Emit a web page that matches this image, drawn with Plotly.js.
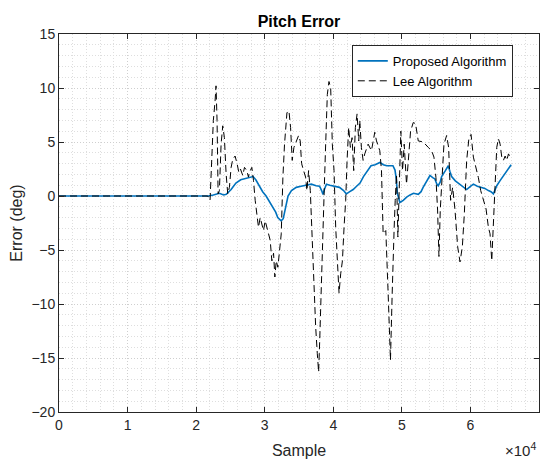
<!DOCTYPE html>
<html>
<head>
<meta charset="utf-8">
<script src="https://cdn.plot.ly/plotly-3.0.1.min.js"></script>
<style>
  html, body { margin: 0; padding: 0; background: #fff; }
  #chart { width: 541px; height: 459px; }
</style>
</head>
<body>
<div id="chart"></div>
<script>
// Pitch error of the two attitude estimators (degrees) against sample index.
const proposedSample = [0, 21800, 22500, 23400, 24000, 24400, 25100, 25800, 26500, 27000, 27500, 28300,
  28700, 29200, 29700, 30200, 30700, 31200, 31600, 31900, 32400, 32700, 32900, 33200, 33400, 33900,
  34600, 35300, 36100, 36800, 37500, 38000, 38300, 38500, 38700, 39000, 39500, 40000, 40900, 41500,
  41900, 42400, 42900, 43400, 43900, 44400, 45000, 45500, 46100, 46800, 47300, 47800, 48700, 49000,
  49200, 49350, 49500, 49700, 50200, 50700, 51200, 51700, 52400, 52800, 53100, 53600, 54100, 54500,
  54800, 55100, 55300, 55600, 55800, 56300, 56770, 57000, 57260, 57800, 58480, 59000, 59450, 60000,
  60430, 61000, 61650, 62100, 62620, 63000, 63350, 63840, 64300, 64810, 65400, 65940];
const proposedError = [0, 0, 0.1, 0.25, 0.1, 0.15, 0.6, 1.2, 1.5, 1.6, 1.7, 1.8,
  1.5, 0.9, 0.4, 0.0, -0.5, -1.0, -1.5, -2.0, -2.3, -2.1, -1.5, -0.5, 0.0, 0.5,
  0.8, 0.9, 1.0, 1.1, 0.95, 0.9, 0.5, 0.15, 0.6, 1.1, 1.0, 0.95, 0.8, 0.5,
  0.2, 0.4, 0.6, 0.9, 1.2, 1.8, 2.4, 2.8, 2.9, 3.1, 2.9, 2.8, 2.8, 2.4,
  1.5, 0.2, -0.1, -0.6, -0.4, -0.1, 0.1, 0.25, 0.15, 0.4, 0.8, 1.4, 1.9, 1.7,
  1.6, 1.1, 0.95, 1.3, 1.8, 2.3, 2.8, 2.3, 1.8, 1.4, 1.1, 0.8, 0.6, 0.9,
  1.1, 0.9, 0.8, 0.7, 0.5, 0.4, 0.2, 0.95, 1.4, 1.9, 2.4, 2.9];

const leeSample = [0, 21690, 22030, 22270, 22510, 22760, 22900, 23050, 23200, 23390, 23640, 23880,
  24120, 24370, 24610, 24850, 25100, 25340, 25680, 25970, 26220, 26460, 26800, 27050, 27390, 27630,
  27780, 28120, 28360, 28610, 28850, 29090, 29340, 29580, 29820, 30070, 30310, 30550, 30800, 31040,
  31290, 31480, 31680, 31920, 32160, 32410, 32650, 32890, 33240, 33530, 33770, 34010, 34260, 34600,
  34940, 35180, 35380, 35670, 35960, 36160, 36400, 36650, 36940, 37180, 37430, 37670, 37860, 38010,
  38260, 38500, 38690, 38890, 39130, 39370, 39620, 39860, 40110, 40350, 40590, 40840, 41080, 41330,
  41570, 41810, 42010, 42250, 42490, 42740, 42980, 43220, 43470, 43710, 43860, 44100, 44350, 44590,
  45080, 45570, 46050, 46300, 46780, 47030, 47270, 47660, 48000, 48340, 48590, 48730, 48880, 49030,
  49220, 49420, 49610, 49850, 50100, 50340, 50680, 51020, 51270, 51660, 52000, 52390, 53120, 53850,
  54340, 54680, 54970, 55210, 55410, 55600, 55850, 56140, 56530, 56820, 57110, 57410, 57750, 58140,
  58480, 58820, 59110, 59450, 59790, 60090, 60430, 60910, 61160, 61500, 61890, 62280, 62620, 62860,
  63110, 63350, 63600, 63840, 64080, 64330, 64570, 64810, 65060, 65300, 65550, 65790];
const leeError = [0, 0, -0.4, 3.3, 7.0, 8.8, 10.2, 7.0, 0.2, 0.5, 4.8, 6.5,
  5.4, 2.05, 0.2, 0.8, 2.65, 3.4, 3.7, 3.0, 2.2, 2.5, 1.9, 2.65, 2.35, 1.75,
  2.2, 2.65, 1.45, -0.4, -2.0, -2.9, -2.0, -2.6, -3.2, -2.3, -2.9, -3.5, -4.1, -6.0,
  -5.3, -7.5, -6.0, -6.6, -4.7, -3.5, 1.7, 4.8, 7.7, 7.9, 6.35, 3.3, 4.5, 5.1,
  5.6, 5.1, 3.0, 2.35, 1.75, 0.5, 2.35, 0.5, -4.4, -9.0, -12.1, -14.6, -16.3, -13.6,
  -7.5, -1.3, 0.8, 4.8, 9.4, 10.6, 10.0, 4.8, 2.35, -2.9, -6.0, -9.0, -7.2, -6.0,
  -2.9, -0.4, 3.3, 6.35, 4.5, 5.4, 2.35, 6.35, 7.6, 5.1, 7.0, 4.5, 3.3, 3.9,
  4.8, 4.2, 5.9, 5.1, 4.2, 2.35, -3.5, -3.2, -9.0, -15.2, -9.0, -4.7, -2.9, -0.4,
  2.0, -3.8, 0.2, 6.0, 2.35, 4.8, 1.1, 4.5, 6.0, 6.8, 6.7, 5.1, 5.0, 4.5,
  4.2, 3.6, 1.7, -1.3, -5.6, -1.3, 2.05, 4.8, 5.6, 4.5, -0.4, 0.8, -1.3, -4.7,
  -6.1, -4.7, -1.65, 3.3, 5.4, 5.7, 3.6, 2.35, 1.7, 0.5, -0.4, -1.2, -2.9, -3.5,
  -6.0, -2.3, 1.1, 4.5, 5.3, 4.8, 3.6, 3.3, 3.7, 3.3, 3.9, 3.6];

const xTickVals = [0, 10000, 20000, 30000, 40000, 50000, 60000, 70000];
const xTickText = ['0', '1', '2', '3', '4', '5', '6', '7'];
const yTickVals = [-20, -15, -10, -5, 0, 5, 10, 15];

const ink = '#262626';
const font = 'Liberation Sans, Arial, Helvetica, sans-serif';

const traces = [
  {
    x: proposedSample, y: proposedError, type: 'scatter', mode: 'lines',
    name: 'Proposed Algorithm',
    line: { color: '#0072BD', width: 1.6 }
  },
  {
    x: leeSample, y: leeError, type: 'scatter', mode: 'lines',
    name: 'Lee Algorithm',
    line: { color: '#000000', width: 1, dash: '7px,4px' }
  }
];

const gridCommon = {
  showgrid: true, gridcolor: '#cfcfcf', gridwidth: 1, griddash: '1px,2px',
  zeroline: false, showline: true, linecolor: ink, linewidth: 1, mirror: 'allticks',
  ticks: 'inside', ticklen: 5, tickcolor: ink, tickwidth: 1,
  tickfont: { family: font, size: 14, color: ink }
};

const layout = {
  width: 541, height: 459,
  margin: { l: 59, r: 2, t: 34, b: 47 },
  paper_bgcolor: '#ffffff', plot_bgcolor: '#ffffff',
  font: { family: font, color: ink },
  title: {
    text: '<b>Pitch Error</b>',
    font: { family: font, size: 16, color: '#000000' },
    xref: 'paper', x: 0.5, xanchor: 'center',
    yref: 'container', y: 0.954, yanchor: 'middle'
  },
  xaxis: Object.assign({}, gridCommon, {
    range: [0, 70000], tickmode: 'array', tickvals: xTickVals, ticktext: xTickText,
    minor: { dtick: 2000, showgrid: true, gridcolor: '#dedede', griddash: '1px,2px', ticks: '' },
    title: { text: 'Sample', font: { family: font, size: 16, color: ink }, standoff: 13 }
  }),
  yaxis: Object.assign({}, gridCommon, {
    range: [-20, 15], tickmode: 'array', tickvals: yTickVals,
    minor: { dtick: 1, showgrid: true, gridcolor: '#dedede', griddash: '1px,2px', ticks: '' },
    title: { text: 'Error (deg)', font: { family: font, size: 16, color: ink }, standoff: 4 }
  }),
  legend: {
    x: 0.61, y: 0.971, xanchor: 'left', yanchor: 'top',
    bgcolor: '#ffffff', bordercolor: ink, borderwidth: 1,
    font: { family: font, size: 13, color: '#000000' },
    tracegroupgap: 0
  },
  showlegend: true,
  annotations: [{
    text: '×10<sup>4</sup>', xref: 'paper', yref: 'paper',
    x: 1.0, y: -0.1, xanchor: 'right', yanchor: 'middle', xshift: -1, showarrow: false,
    font: { family: font, size: 15, color: ink }
  }]
};

Plotly.newPlot('chart', traces, layout, { displayModeBar: false, staticPlot: true });
</script>
</body>
</html>
